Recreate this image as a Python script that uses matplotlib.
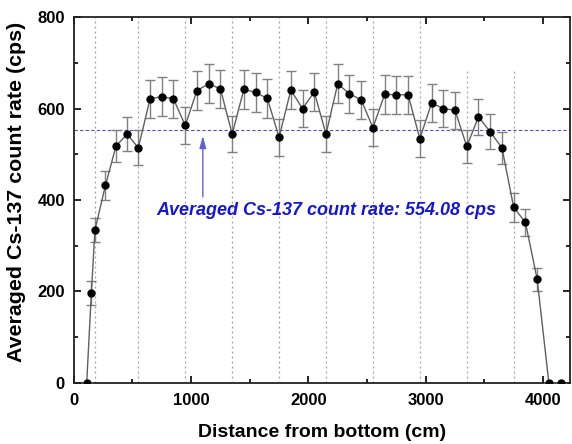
import matplotlib
matplotlib.use("Agg")
import matplotlib.pyplot as plt
from matplotlib.ticker import MultipleLocator

plt.rcParams['font.family'] = ['Liberation Sans', 'DejaVu Sans']

# Data
distance_cm = [110, 150, 180, 270, 360, 455, 550, 650, 750, 850, 950, 1050, 1150, 1250,
               1350, 1450, 1550, 1650, 1750, 1850, 1950, 2050, 2150, 2250, 2350, 2450,
               2550, 2650, 2750, 2850, 2950, 3050, 3150, 3250, 3350, 3450, 3550, 3650,
               3750, 3850, 3950, 4050, 4150]
count_rate = [0, 197, 334, 432, 518, 544, 514, 621, 626, 621, 563, 639, 654, 643,
              544, 642, 635, 622, 537, 640, 600, 636, 544, 654, 632, 619,
              558, 631, 630, 630, 534, 612, 600, 596, 517, 582, 549, 514,
              384, 351, 227, 0, 0]
count_err = [0, 27, 26, 31, 35, 37, 38, 42, 42, 42, 40, 42, 43, 42,
             40, 42, 42, 42, 40, 42, 40, 42, 40, 43, 42, 42,
             40, 42, 42, 42, 40, 41, 40, 40, 37, 39, 38, 35,
             31, 29, 25, 0, 0]

average_rate = 554.08
joint_lines = [180, 550, 950, 1350, 1750, 2150, 2550, 2950, 3350, 3750]
joint_top = [1.0, 1.0, 1.0, 1.0, 1.0, 1.0, 1.0, 1.0, 0.86, 0.86]
arrow_x = 1100
arrow_y0, arrow_y1 = 407, 540
label_text = 'Averaged Cs-137 count rate: 554.08 cps'

fig = plt.figure(figsize=(5.72, 4.44), dpi=100)
ax = fig.add_axes([0.129, 0.1374, 0.8675, 0.8243])

for xv, top in zip(joint_lines, joint_top):
    ax.axvline(xv, ymin=0, ymax=top, color='#a0a0a0', linestyle=(0, (1.5, 2.5)),
               linewidth=0.9, zorder=1)

ax.axhline(average_rate, color='#5050c8', linestyle=(0, (3, 2)), linewidth=0.8, zorder=2)

ax.errorbar(distance_cm, count_rate, yerr=count_err, fmt='-o', color='#606060',
            ecolor='#808080', elinewidth=1.0, capsize=3.5, capthick=1.0,
            markerfacecolor='black', markeredgecolor='black', markersize=5,
            linewidth=1.0, zorder=3)

ax.annotate('', xy=(arrow_x, arrow_y1), xytext=(arrow_x, arrow_y0),
            arrowprops=dict(arrowstyle='-|>,head_length=0.9,head_width=0.25',
                            color='#6060d0', linewidth=1.0,
                            mutation_scale=8, shrinkA=0, shrinkB=0))
ax.text(2157, 378, label_text, color='#1515d8',
        fontsize=13, fontweight='bold', fontstyle='italic', ha='center', va='center')

ax.set_xlim(0, 4230)
ax.set_ylim(0, 800)
ax.xaxis.set_major_locator(MultipleLocator(1000))
ax.xaxis.set_minor_locator(MultipleLocator(500))
ax.yaxis.set_major_locator(MultipleLocator(200))
ax.yaxis.set_minor_locator(MultipleLocator(100))
ax.tick_params(which='both', direction='in', top=True, right=True, width=1.2)
ax.tick_params(which='major', length=5, labelsize=12)
ax.tick_params(axis='x', which='major', pad=7)
ax.tick_params(axis='y', which='major', pad=6.5)
ax.tick_params(which='minor', length=3)
for lbl in ax.get_xticklabels() + ax.get_yticklabels():
    lbl.set_fontweight('bold')
for sp in ax.spines.values():
    sp.set_linewidth(1.3)
    sp.set_color('#222222')

ax.set_xlabel('Distance from bottom (cm)', fontsize=14, fontweight='bold')
ax.set_ylabel('Averaged Cs-137 count rate (cps)', fontsize=15.4, fontweight='bold')
ax.xaxis.set_label_coords(0.5, -0.112)
ax.yaxis.set_label_coords(-0.097, 0.522)

fig.savefig('out.png', dpi=100)
